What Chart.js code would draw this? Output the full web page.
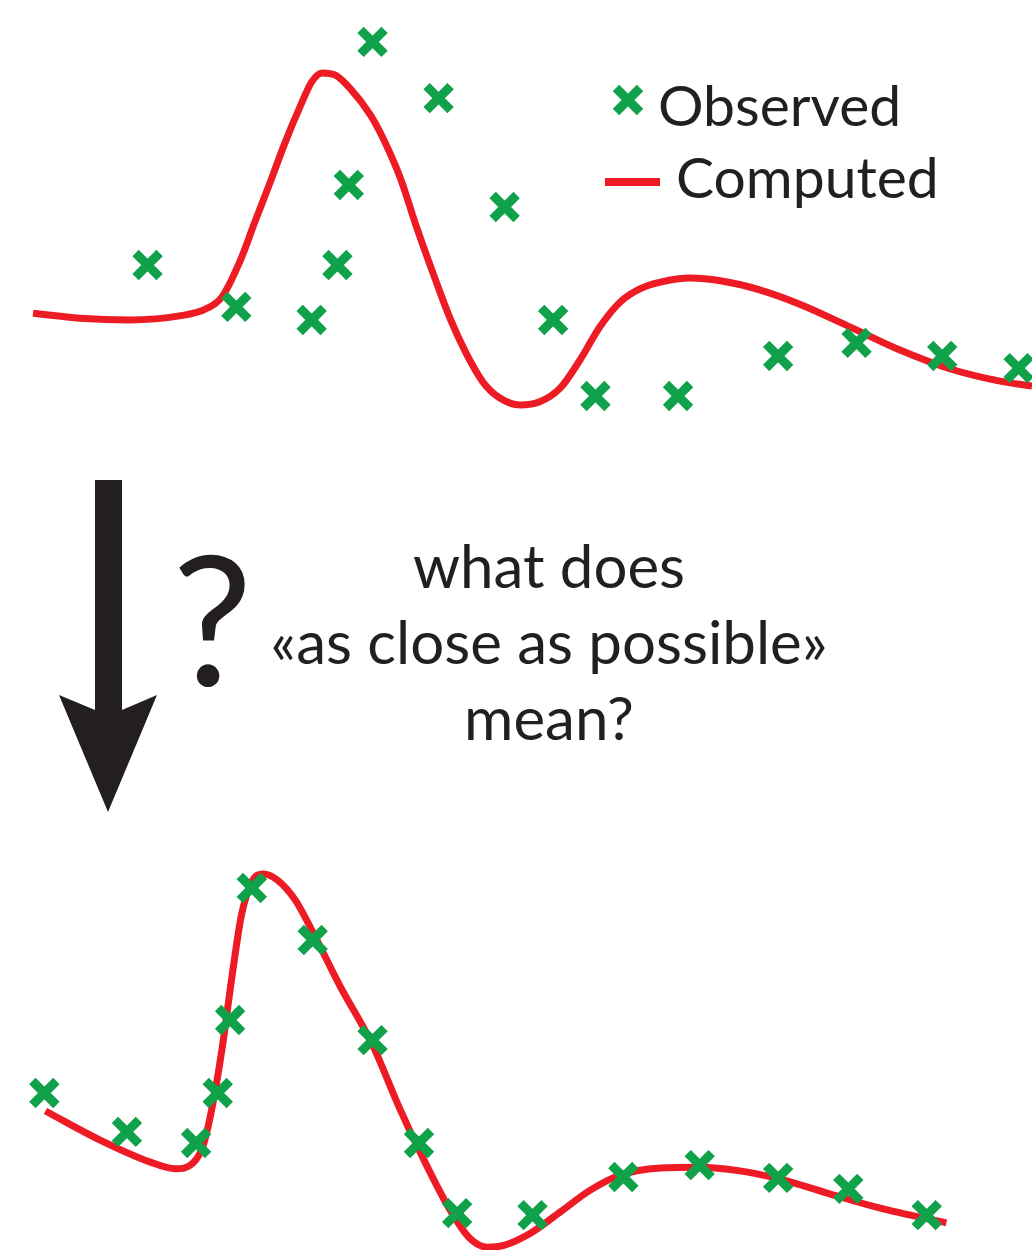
<!DOCTYPE html>
<html>
<head>
<meta charset="utf-8">
<script src="https://cdn.jsdelivr.net/npm/chart.js"></script>
<style>
  body { margin: 0; background: #fff; }
  #page { position: relative; width: 1032px; height: 1250px; overflow: hidden; font-family: Lato, "Open Sans", sans-serif; color: #231f20; }
  canvas { position: absolute; left: 0; }
  #chartTop { top: 0; }
  #chartBottom { top: 840px; }
  .txt { position: absolute; white-space: nowrap; }
  svg { position: absolute; left: 0; top: 0; }
</style>
</head>
<body>
<div id="page">
  <canvas id="chartTop" width="1032" height="450"></canvas>
  <canvas id="chartBottom" width="1032" height="410"></canvas>

  <svg width="1032" height="1250">
    <!-- legend marks -->
    <line x1="616" y1="88" x2="640" y2="112" stroke="#10a14b" stroke-width="9"/>
    <line x1="640" y1="88" x2="616" y2="112" stroke="#10a14b" stroke-width="9"/>
    <line x1="605" y1="182" x2="660" y2="182" stroke="#ed1c24" stroke-width="8"/>
    <!-- arrow -->
    <polygon points="95,480 122,480 122,710 157,695 108,812 59,695 95,710" fill="#231f20"/>
  </svg>

  <div class="txt" style="left:658px; top:70px; font-size:57px; line-height:1.2;">Observed</div>
  <div class="txt" style="left:676px; top:142px; font-size:57px; line-height:1.2;">Computed</div>
  <div class="txt" style="left:172px; top:508px; font-size:180px; line-height:1.2;">?</div>
  <div class="txt" style="left:249px; top:527px; width:600px; text-align:center; font-size:60px; line-height:76px;">what does<br>«as close as possible»<br>mean?</div>
</div>

<script>
const green = '#10a14b';
const red = '#ed1c24';

// top panel: scattered observations and a poor fit
let topObsX = [14.3, 22.9, 30.2, 32.7, 33.8, 36.1, 42.5, 48.9, 53.6, 57.7, 65.7, 75.4, 83.0, 91.3, 98.7];
let topObsY = [4.11, 3.18, 2.89, 4.11, 5.89, 9.07, 7.82, 5.40, 2.89, 1.20, 1.20, 2.09, 2.38, 2.09, 1.82];
let topFitX = [3.2, 7.75, 12.6, 17.4, 19.9, 21.5, 23.3, 24.7, 26.2, 27.6, 29.1, 30.2, 31.2, 32.5, 33.9, 35.9, 37.3, 38.8, 40.4, 42.2, 43.6, 45.1, 46.8, 48.4, 50.4, 52.3, 54.3, 56.2, 58.1, 60.1, 62.0, 64.0, 66.9, 69.8, 73.6, 77.5, 82.4, 87.2, 92.1, 96.9, 100];
let topFitY = [3.04, 2.93, 2.89, 2.98, 3.13, 3.40, 4.22, 5.07, 5.96, 6.82, 7.64, 8.18, 8.38, 8.33, 8.04, 7.44, 6.84, 6.04, 4.93, 3.78, 2.93, 2.18, 1.51, 1.16, 1.00, 1.07, 1.38, 2.00, 2.73, 3.29, 3.58, 3.73, 3.82, 3.76, 3.56, 3.24, 2.73, 2.22, 1.80, 1.53, 1.42];

// bottom panel: observations close to the fit
let botObsX = [4.3, 12.3, 19.0, 21.1, 22.3, 24.4, 30.3, 36.1, 40.6, 44.3, 51.6, 60.4, 67.8, 75.4, 82.2, 89.8];
let botObsY = [3.83, 2.88, 2.61, 3.83, 5.61, 8.83, 7.56, 5.12, 2.61, 0.90, 0.85, 1.78, 2.07, 1.76, 1.49, 0.85];
let botFitX = [4.4, 9.7, 14.5, 17.0, 18.7, 19.7, 20.5, 21.5, 22.5, 23.4, 24.4, 25.5, 26.9, 28.6, 30.3, 32.9, 36.1, 38.8, 40.7, 43.6, 45.5, 47.2, 48.9, 51.4, 54.3, 57.2, 60.1, 64.0, 67.8, 71.7, 75.6, 80.4, 85.3, 91.7];
let botFitY = [3.39, 2.68, 2.15, 1.98, 2.12, 2.56, 3.41, 4.88, 6.71, 8.17, 8.98, 9.17, 9.02, 8.54, 7.76, 6.46, 5.00, 3.41, 2.39, 0.98, 0.29, 0.07, 0.12, 0.41, 0.93, 1.46, 1.83, 2.00, 2.02, 1.93, 1.73, 1.37, 1.02, 0.66];

function pts(xs, ys) {
    return xs.map(function(x, i){ return {x: x, y: ys[i]}; });
}

function makeChart(el, obsX, obsY, fitX, fitY) {
    return new Chart(document.getElementById(el), {
        type: 'scatter',
        data: {
            datasets: [{
                label: 'Observed',
                data: pts(obsX, obsY),
                pointStyle: 'crossRot',
                pointRadius: 17,
                pointBorderWidth: 9,
                pointBorderColor: green,
                pointBackgroundColor: green,
                clip: false,
                order: 0
            }, {
                label: 'Computed',
                type: 'line',
                data: pts(fitX, fitY),
                borderColor: red,
                borderWidth: 7,
                pointRadius: 0,
                cubicInterpolationMode: 'monotone',
                fill: false,
                clip: false,
                order: 1
            }]
        },
        options: {
            responsive: false,
            animation: false,
            events: [],
            layout: { padding: 0, autoPadding: false },
            plugins: { legend: { display: false }, tooltip: { enabled: false } },
            scales: {
                x: { type: 'linear', display: false, min: 0, max: 100 },
                y: { type: 'linear', display: false, min: 0, max: 10 }
            }
        }
    });
}

makeChart('chartTop', topObsX, topObsY, topFitX, topFitY);
makeChart('chartBottom', botObsX, botObsY, botFitX, botFitY);
</script>
</body>
</html>
